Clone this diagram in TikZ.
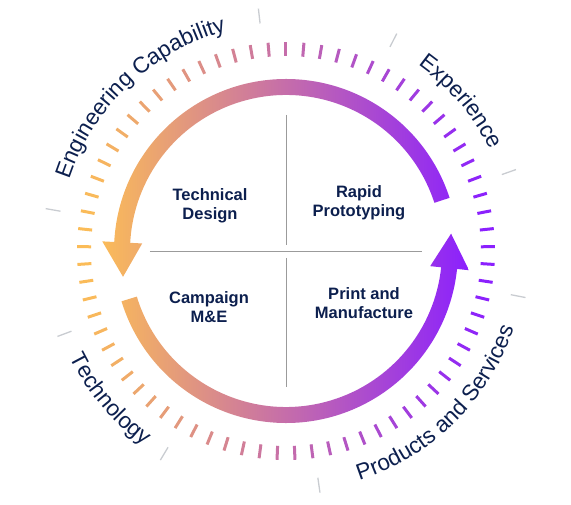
\documentclass[tikz,border=0pt]{standalone}
\usepackage{fontspec}
\setmainfont{Liberation Sans}
\usetikzlibrary{decorations.text}

\definecolor{cyel}{HTML}{FBBC58}
\definecolor{cmid}{HTML}{C56DAA}
\definecolor{cvio}{HTML}{8A1FFF}
\definecolor{navy}{HTML}{0C1F4E}
\definecolor{divgrey}{HTML}{C9CCD1}
\definecolor{crossgrey}{HTML}{9B9B9B}

\newcommand\ringfont{\fontsize{22.5pt}{24pt}\selectfont}

\begin{document}
\begin{tikzpicture}[
        x=1pt, y=1pt,
        stage/.style={font=\fontsize{16.5pt}{19.5pt}\selectfont\bfseries, text=navy, align=center, inner sep=0pt},
        ringtick/.style={line width=3pt},
        divider/.style={divgrey, line width=1.3pt},
        ringtext/.style={decorate, decoration={text along path, text align=center, text color=navy, text={|\ringfont|#1}}}
    ]
    \useasboundingbox (-286pt,-254pt) rectangle (285pt,251pt);
    
    % the two gradient arrows
    \begin{scope}
    \clip (18:156pt) arc[start angle=18, end angle=177, radius=156pt] -- (177:144pt) -- (189:165pt) -- (177:184pt) -- (177:172pt) arc[start angle=177, end angle=18, radius=172pt] -- cycle
          (197:156pt) arc[start angle=197, end angle=354, radius=156pt] -- (354:145pt) -- (366:166pt) -- (354:184pt) -- (354:172pt) arc[start angle=354, end angle=197, radius=172pt] -- cycle;
    \shade[left color=cyel, right color=cvio, middle color=cmid] (-186pt,-186pt) rectangle (186pt,186pt);
    \end{scope}
    
    % tick ring
    \foreach \i in {0,...,72}{
        \pgfmathsetmacro\ang{90+\i*4.93151}
        \pgfmathsetmacro\cx{cos(\ang)}
        \pgfmathtruncatemacro\pct{ifthenelse(\cx<0, 100*(1+\cx), 100*\cx)}
        \ifdim\cx pt<0pt \colorlet{tickcol}{cmid!\pct!cyel}\else\colorlet{tickcol}{cvio!\pct!cmid}\fi
        \draw[ringtick, tickcol] (\ang:195pt) -- (\ang:209pt);
    }
    
    % dividers between the outer labels
    \foreach \a in {19.5,63,96.5,170,200.5,239,278,349}
        \draw[divider] (\a:229pt) -- (\a:244pt);
    
    % outer labels
    \path[ringtext=Experience] (65:228pt) arc[start angle=65, end angle=16, radius=228pt];
    \path[ringtext=Engineering Capability] (168:228pt) arc[start angle=168, end angle=99, radius=228pt];
    \path[ringtext=Technology] (200:241pt) arc[start angle=200, end angle=240, radius=241pt];
    \path[ringtext=Products and Services] (282:241pt) arc[start angle=282, end angle=347, radius=241pt];
    
    % quadrant cross
    \draw[crossgrey, line width=0.9pt] (0pt,136pt) -- (0pt,6pt) (0pt,-7pt) -- (0pt,-136pt) (-136pt,0pt) -- (136pt,0pt);
    
    \node[stage] (tech) at (-76pt,45pt) {Technical\\Design};
    \node[stage] (rapid) at (73pt,48pt) {Rapid\\Prototyping};
    \node[stage] (camp) at (-77pt,-56pt) {Campaign\\M\&E};
    \node[stage] (print) at (78pt,-52pt) {Print and\\Manufacture};
    
    \end{tikzpicture}
\end{document}
